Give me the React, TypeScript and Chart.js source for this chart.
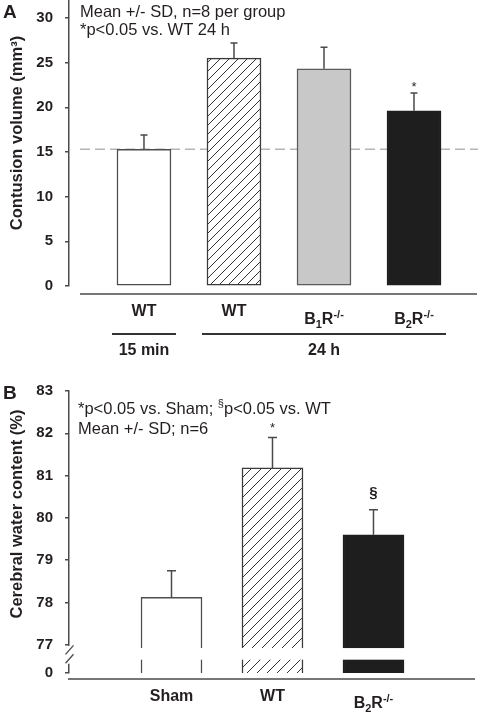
import React, { useEffect, useRef } from "react";
import { Chart, registerables } from "chart.js";
Chart.register(...registerables);

const FONT = '"Liberation Sans", Arial, Helvetica, sans-serif';
const INK = "#231f20";
const LINE = "#4a4a4a";

// ---------- Panel A: contusion volume ----------
const contusionLabels = ["WT", "WT", "B_{1}R^{-/-}", "B_{2}R^{-/-}"];
const contusionMean = [15.3, 25.5, 24.3, 19.6];
const contusionSD = [1.6, 1.7, 2.4, 2.0];
const contusionMarks = ["", "", "", "*"];
const contusionGroups = [
  { label: "15 min", from: 0, to: 0 },
  { label: "24 h", from: 1, to: 3 },
];
const contusionTicks = [0, 5, 10, 15, 20, 25, 30];
const contusionRef = 15.3;
const contusionNotes = ["Mean +/- SD, n=8 per group", "*p<0.05 vs. WT 24 h"];
const contusionTitle = "Contusion volume (mm³)";

// ---------- Panel B: cerebral water content ----------
const waterLabels = ["Sham", "WT", "B_{2}R^{-/-}"];
const waterMean = [78.12, 81.18, 79.6];
const waterSD = [0.63, 0.72, 0.59];
const waterMarks = ["", "*", "§"];
const waterTicks = [77, 78, 79, 80, 81, 82, 83];
const waterBreakBase = 76.33; // bottom of broken axis, labelled "0"
const waterNotes = ["*p<0.05 vs. Sham; ^{§}p<0.05 vs. WT", "Mean +/- SD; n=6"];
const waterTitle = "Cerebral water content (%)";

type Part = { t: string; m: number };
function parseRich(s: string): Part[] {
  const out: Part[] = [];
  const re = /_\{([^}]*)\}|\^\{([^}]*)\}|([^_^]+)/g;
  let m: RegExpExecArray | null;
  while ((m = re.exec(s))) {
    if (m[1] !== undefined) out.push({ t: m[1], m: -1 });
    else if (m[2] !== undefined) out.push({ t: m[2], m: 1 });
    else out.push({ t: m[3], m: 0 });
  }
  return out;
}
function hasSub(s: string) {
  return s.indexOf("_{") >= 0;
}
function drawRich(
  ctx: CanvasRenderingContext2D,
  s: string,
  x: number,
  y: number,
  size: number,
  weight: string,
  align: "left" | "center"
) {
  const parts = parseRich(s);
  const small = Math.round(size * 0.68);
  const fontFor = (p: Part) => `${weight} ${p.m === 0 ? size : small}px ${FONT}`;
  let w = 0;
  for (const p of parts) {
    ctx.font = fontFor(p);
    w += ctx.measureText(p.t).width;
  }
  let cx = align === "center" ? x - w / 2 : x;
  ctx.textAlign = "left";
  ctx.textBaseline = "alphabetic";
  for (const p of parts) {
    ctx.font = fontFor(p);
    const dy = p.m === 1 ? -size * 0.4 : p.m === -1 ? size * 0.28 : 0;
    ctx.fillText(p.t, cx, y + dy);
    cx += ctx.measureText(p.t).width;
  }
}

function makeHatch(spacing: number, color: string) {
  const c = document.createElement("canvas");
  c.width = spacing;
  c.height = spacing;
  const g = c.getContext("2d")!;
  g.fillStyle = "#ffffff";
  g.fillRect(0, 0, spacing, spacing);
  g.strokeStyle = color;
  g.lineWidth = 1;
  g.beginPath();
  g.moveTo(-1, spacing + 1);
  g.lineTo(spacing + 1, -1);
  g.moveTo(-2, 2);
  g.lineTo(2, -2);
  g.moveTo(spacing - 2, spacing + 2);
  g.lineTo(spacing + 2, spacing - 2);
  g.stroke();
  return g.createPattern(c, "repeat")!;
}

function yScale(min: number, max: number, ticks: number[], label: (v: number) => string) {
  return {
    min,
    max,
    afterBuildTicks: (s: any) => {
      s.ticks = ticks.map((v) => ({ value: v }));
    },
    afterFit: (s: any) => {
      s.width = 69;
      s.paddingTop = 0;
      s.paddingBottom = 0;
    },
    grid: { display: true, drawOnChartArea: false, drawTicks: true, tickLength: 4, color: LINE, lineWidth: 1.5 },
    border: { display: true, color: LINE, width: 1.5 },
    ticks: {
      font: { family: FONT, size: 15, weight: "bold" as const },
      color: INK,
      padding: 12,
      callback: (v: any) => label(Number(v)),
    },
  };
}

function drawErrors(chart: any, mean: number[], sd: number[], capHalf: number) {
  const { ctx, scales } = chart;
  ctx.save();
  ctx.strokeStyle = LINE;
  ctx.lineWidth = 1.5;
  mean.forEach((m, i) => {
    const x = scales.x.getPixelForValue(i);
    const y0 = scales.y.getPixelForValue(m);
    const y1 = scales.y.getPixelForValue(m + sd[i]);
    ctx.beginPath();
    ctx.moveTo(x, y0);
    ctx.lineTo(x, y1);
    ctx.moveTo(x - capHalf, y1);
    ctx.lineTo(x + capHalf, y1);
    ctx.stroke();
  });
  ctx.restore();
}

function drawMarks(
  chart: any,
  mean: number[],
  sd: number[],
  marks: string[],
  style: Record<string, { font: string; gap: number }>
) {
  const { ctx, scales } = chart;
  ctx.save();
  ctx.fillStyle = INK;
  ctx.textAlign = "center";
  ctx.textBaseline = "alphabetic";
  marks.forEach((mk, i) => {
    if (!mk) return;
    const st = style[mk];
    ctx.font = st.font;
    const x = scales.x.getPixelForValue(i);
    const cy = scales.y.getPixelForValue(mean[i] + sd[i]) - st.gap;
    const mt = ctx.measureText(mk);
    ctx.fillText(mk, x, cy + (mt.actualBoundingBoxAscent - mt.actualBoundingBoxDescent) / 2);
  });
  ctx.restore();
}

function drawYTitle(ctx: CanvasRenderingContext2D, text: string, x: number, y: number) {
  ctx.save();
  ctx.translate(x, y);
  ctx.rotate(-Math.PI / 2);
  ctx.fillStyle = INK;
  ctx.font = `bold 16.5px ${FONT}`;
  ctx.textAlign = "center";
  ctx.textBaseline = "middle";
  ctx.fillText(text, 0, 0);
  ctx.restore();
}

function hline(ctx: CanvasRenderingContext2D, x1: number, x2: number, y: number, w: number, color: string) {
  ctx.save();
  ctx.strokeStyle = color;
  ctx.lineWidth = w;
  ctx.beginPath();
  ctx.moveTo(x1, y);
  ctx.lineTo(x2, y);
  ctx.stroke();
  ctx.restore();
}

function makeChartA(canvas: HTMLCanvasElement) {
  const ctx0 = canvas.getContext("2d")!;
  const hatch = makeHatch(9, "#333333");
  const plugin = {
    id: "panelA",
    beforeDatasetsDraw(chart: any) {
      const { ctx, scales, chartArea } = chart;
      const py = scales.y.getPixelForValue(contusionRef);
      ctx.save();
      ctx.strokeStyle = "#b5b5b5";
      ctx.lineWidth = 1.5;
      ctx.setLineDash([10, 5]);
      ctx.beginPath();
      ctx.moveTo(chartArea.left + 11, py);
      ctx.lineTo(chartArea.right, py);
      ctx.stroke();
      ctx.restore();
    },
    afterDatasetsDraw(chart: any) {
      drawErrors(chart, contusionMean, contusionSD, 3.5);
      drawMarks(chart, contusionMean, contusionSD, contusionMarks, {
        "*": { font: `13px ${FONT}`, gap: 8 },
      });
    },
    afterDraw(chart: any) {
      const { ctx, scales, chartArea } = chart;
      const xs = scales.x;
      // x axis line (offset below the y range)
      hline(ctx, chartArea.left + 11, chartArea.right - 1, chartArea.bottom + 8, 1.5, LINE);
      ctx.save();
      ctx.fillStyle = INK;
      contusionLabels.forEach((lab, i) => {
        const base = chartArea.bottom + 30 + (hasSub(lab) ? 8 : 0);
        drawRich(ctx, lab, xs.getPixelForValue(i), base, 16, "bold", "center");
      });
      contusionGroups.forEach((g) => {
        const x1 = xs.getPixelForValue(g.from) - 32;
        const x2 = xs.getPixelForValue(g.to) + 32;
        hline(ctx, x1, x2, chartArea.bottom + 48, 2, "#333333");
        ctx.fillStyle = INK;
        drawRich(ctx, g.label, (x1 + x2) / 2, chartArea.bottom + 69, 16, "bold", "center");
      });
      // notes
      contusionNotes.forEach((n, i) => {
        drawRich(ctx, n, chartArea.left + 11, 16.5 + i * 18, 16.5, "normal", "left");
      });
      // panel letter
      ctx.font = `bold 19px ${FONT}`;
      ctx.textAlign = "left";
      ctx.textBaseline = "alphabetic";
      ctx.fillText("A", 3, 18);
      ctx.restore();
      drawYTitle(ctx, contusionTitle, 17, 133);
    },
  };
  return new Chart(ctx0, {
    type: "bar",
    data: {
      datasets: [
        {
          data: contusionMean.map((y, i) => ({ x: i, y })),
          backgroundColor: ["#ffffff", hatch, "#c8c8c8", "#1e1e1e"] as any,
          borderColor: ["#4d4d4d", "#3a3a3a", "#5a5a5a", "#1e1e1e"],
          borderWidth: 1.5,
          borderSkipped: false,
          barThickness: 54,
        },
      ],
    },
    options: {
      responsive: false,
      animation: false,
      events: [],
      layout: { padding: { left: 0, right: 0, top: 0, bottom: 74 } },
      plugins: { legend: { display: false }, tooltip: { enabled: false }, title: { display: false } },
      scales: {
        x: { type: "linear", display: false, min: -0.833, max: 3.711, offset: false },
        y: yScale(0, 32, contusionTicks, (v) => String(v)) as any,
      },
    },
    plugins: [plugin],
  } as any);
}

function makeChartB(canvas: HTMLCanvasElement) {
  const ctx0 = canvas.getContext("2d")!;
  const hatch = makeHatch(10, "#333333");
  const plugin = {
    id: "panelB",
    afterDatasetsDraw(chart: any) {
      const { ctx, scales, chartArea } = chart;
      const ys = scales.y;
      // broken-axis gap
      ctx.save();
      ctx.fillStyle = "#ffffff";
      const gTop = ys.getPixelForValue(76.92);
      const gBot = ys.getPixelForValue(76.645);
      ctx.fillRect(chartArea.left + 2, gTop, chartArea.right - chartArea.left, gBot - gTop);
      const aTop = ys.getPixelForValue(76.97);
      const aBot = ys.getPixelForValue(76.55);
      ctx.fillRect(chartArea.left - 3, aTop, 6, aBot - aTop);
      // slashes
      ctx.strokeStyle = LINE;
      ctx.lineWidth = 1.3;
      [aTop + 4, aBot - 5].forEach((cy) => {
        ctx.beginPath();
        ctx.moveTo(chartArea.left - 3.5, cy + 4.5);
        ctx.lineTo(chartArea.left + 4.5, cy - 4.5);
        ctx.stroke();
      });
      ctx.restore();
      drawErrors(chart, waterMean, waterSD, 4.5);
      drawMarks(chart, waterMean, waterSD, waterMarks, {
        "*": { font: `13px ${FONT}`, gap: 12 },
        "§": { font: `bold 15px ${FONT}`, gap: 16 },
      });
    },
    afterDraw(chart: any) {
      const { ctx, scales, chartArea } = chart;
      const xs = scales.x;
      hline(ctx, chartArea.left - 1, chartArea.right - 3, chartArea.bottom + 6, 1.5, LINE);
      ctx.save();
      ctx.fillStyle = INK;
      waterLabels.forEach((lab, i) => {
        const base = chartArea.bottom + 28 + (hasSub(lab) ? 7 : 0);
        drawRich(ctx, lab, xs.getPixelForValue(i), base, 16, "bold", "center");
      });
      waterNotes.forEach((n, i) => {
        drawRich(ctx, n, chartArea.left + 9, 54 + i * 20, 16.5, "normal", "left");
      });
      ctx.font = `bold 19px ${FONT}`;
      ctx.textAlign = "left";
      ctx.textBaseline = "alphabetic";
      ctx.fillText("B", 3, 38.5);
      ctx.restore();
      drawYTitle(ctx, waterTitle, 17, 154);
    },
  };
  return new Chart(ctx0, {
    type: "bar",
    data: {
      datasets: [
        {
          data: waterMean.map((y, i) => ({ x: i, y })),
          backgroundColor: ["#ffffff", hatch, "#1e1e1e"] as any,
          borderColor: ["#4d4d4d", "#3a3a3a", "#1e1e1e"],
          borderWidth: 1.5,
          borderSkipped: false,
          barThickness: 61,
        },
      ],
    },
    options: {
      responsive: false,
      animation: false,
      events: [],
      layout: { padding: { left: 0, right: 0, top: 31, bottom: 42 } },
      plugins: { legend: { display: false }, tooltip: { enabled: false }, title: { display: false } },
      scales: {
        x: { type: "linear", display: false, min: -1.015, max: 3.035, offset: false },
        y: yScale(
          waterBreakBase,
          83,
          [waterBreakBase, ...waterTicks],
          (v) => (Math.abs(v - waterBreakBase) < 1e-6 ? "0" : String(v))
        ) as any,
      },
    },
    plugins: [plugin],
  } as any);
}

export default function App() {
  const refA = useRef<HTMLCanvasElement>(null);
  const refB = useRef<HTMLCanvasElement>(null);
  useEffect(() => {
    const a = makeChartA(refA.current!);
    const b = makeChartB(refB.current!);
    return () => {
      a.destroy();
      b.destroy();
    };
  }, []);
  return (
    <div
      style={{
        position: "absolute",
        left: 0,
        top: 0,
        width: 478,
        height: 715,
        background: "#ffffff",
        overflow: "hidden",
      }}
    >
      <canvas
        ref={refA}
        width={478}
        height={360}
        style={{ position: "absolute", left: 0, top: 0, width: 478, height: 360 }}
      />
      <canvas
        ref={refB}
        width={478}
        height={355}
        style={{ position: "absolute", left: 0, top: 360, width: 478, height: 355 }}
      />
    </div>
  );
}
